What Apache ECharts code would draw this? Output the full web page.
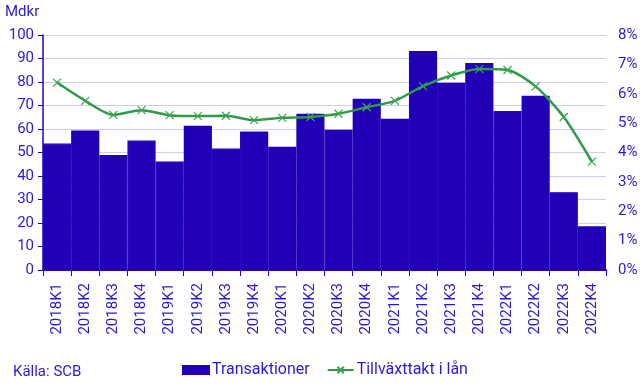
<!DOCTYPE html>
<html><head><meta charset="utf-8">
<script src="https://cdn.jsdelivr.net/npm/echarts@6/dist/echarts.min.js"></script>
<style>html,body{margin:0;padding:0;background:#fff}#c{width:643px;height:392px}</style>
</head><body><div id="c"></div>
<script>
const categories = ['2018K1','2018K2','2018K3','2018K4','2019K1','2019K2','2019K3','2019K4','2020K1','2020K2','2020K3','2020K4','2021K1','2021K2','2021K3','2021K4','2022K1','2022K2','2022K3','2022K4'];
const transaktioner = [53.8,59.4,48.9,55.1,46.2,61.4,51.7,58.9,52.5,66.5,59.7,72.9,64.4,93.2,79.7,88.1,67.7,74.1,33.1,18.6];
const tillvaxttakt = [6.38,5.76,5.28,5.44,5.27,5.24,5.25,5.10,5.18,5.21,5.32,5.54,5.76,6.26,6.62,6.84,6.81,6.25,5.21,3.69];
const leftTicks = [0,100,10];
const rightTicks = [0,8,1];

const txt = '#2a1bcc';
const font = 'Roboto, "Liberation Sans", Arial, sans-serif';
const chart = echarts.init(document.getElementById('c'), null, {renderer:'canvas'});
chart.setOption({
  animation:false,
  textStyle:{fontFamily:font},
  grid:{left:43,right:37,top:35,bottom:122,containLabel:false},
  graphic:[
    {type:'text',left:5,top:5,style:{text:'Mdkr',fill:txt,font:'15px '+font}},
    {type:'text',left:13,top:365,style:{text:'Källa: SCB',fill:txt,font:'15px '+font}}
  ],
  legend:{left:177,top:357,itemGap:17,itemWidth:26,itemHeight:8,
    textStyle:{color:txt,fontSize:16,fontFamily:font,padding:[0,0,0,-2]},
    data:[{name:'Transaktioner',icon:'rect'},{name:'Tillväxttakt i lån'}]},
  xAxis:{type:'category',data:categories,boundaryGap:true,
    axisLine:{lineStyle:{color:'#2200bb',width:2}},
    axisTick:{show:true,length:6,lineStyle:{color:'#2200bb'}},
    axisLabel:{rotate:90,color:txt,fontSize:15,fontFamily:font,margin:13,interval:0}},
  yAxis:[
    {type:'value',min:leftTicks[0],max:leftTicks[1],interval:leftTicks[2],
     axisLine:{show:true,lineStyle:{color:'#2200bb',width:1.5}},
     axisTick:{show:true,length:5,lineStyle:{color:'#2200bb'}},
     splitLine:{lineStyle:{color:'#cfcbee',width:1}},
     axisLabel:{color:txt,fontSize:15,fontFamily:font,margin:9}},
    {type:'value',min:rightTicks[0],max:rightTicks[1],interval:rightTicks[2],position:'right',
     axisLine:{show:false},axisTick:{show:false},splitLine:{show:false},
     axisLabel:{color:txt,fontSize:15,fontFamily:font,margin:12,formatter:'{value}%'}}
  ],
  series:[
    {name:'Transaktioner',type:'bar',data:transaktioner,barWidth:'100%',barGap:'0%',
     itemStyle:{color:'#2100b8',borderColor:'#2100b8',borderWidth:1.3},z:2},
    {name:'Tillväxttakt i lån',type:'line',yAxisIndex:1,data:tillvaxttakt,smooth:0.25,
     lineStyle:{color:'#2f9a48',width:2.5},
     symbol:'path://M0,0L10,10M10,0L0,10',symbolSize:8,
     itemStyle:{color:'none',borderColor:'#3aa552',borderWidth:1.2},z:3}
  ]
});
</script></body></html>
